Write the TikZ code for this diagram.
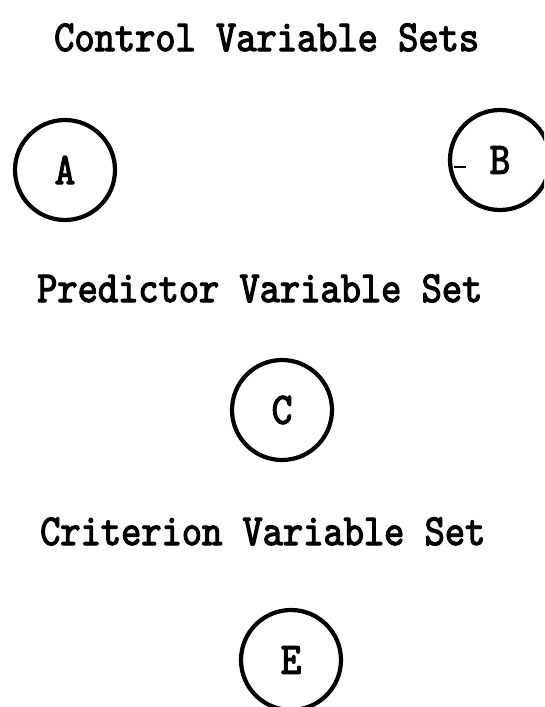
\documentclass[tikz,border=0pt]{standalone}
\usepackage{fontspec}
\newfontfamily\typewr[FakeStretch=0.87,FakeBold=2.6]{lmmono10-regular.otf}
\usepackage{tikz}

\begin{document}
\begin{tikzpicture}[x=1pt, y=-1pt,
  settitle/.style={anchor=base west, inner sep=0pt, font=\typewr\fontsize{44.3}{50}\selectfont},
  setcircle/.style={draw, circle, line width=4.2pt, minimum size=100pt, inner sep=0pt,
    font=\typewr\fontsize{45}{50}\selectfont}]
\useasboundingbox (0,0) rectangle (544,707);
\clip (0,0) rectangle (544,707);
% headings
\node[settitle] (ctrl) at (54,51) {Control Variable Sets};
\node[settitle] (pred) at (37,302) {Predictor Variable Set};
\node[settitle] (crit) at (40,545) {Criterion Variable Set};
% variable sets
\node[setcircle] (A) at (65,170) {A};
\node[setcircle] (B) at (500,160) {B};
\node[setcircle] (C) at (282,410) {C};
\node[setcircle] (E) at (291,660) {E};
% stray tick left of B
\draw[line width=2.5pt] (B.west) ++(6,7) -- ++(12,0);
\end{tikzpicture}
\end{document}
